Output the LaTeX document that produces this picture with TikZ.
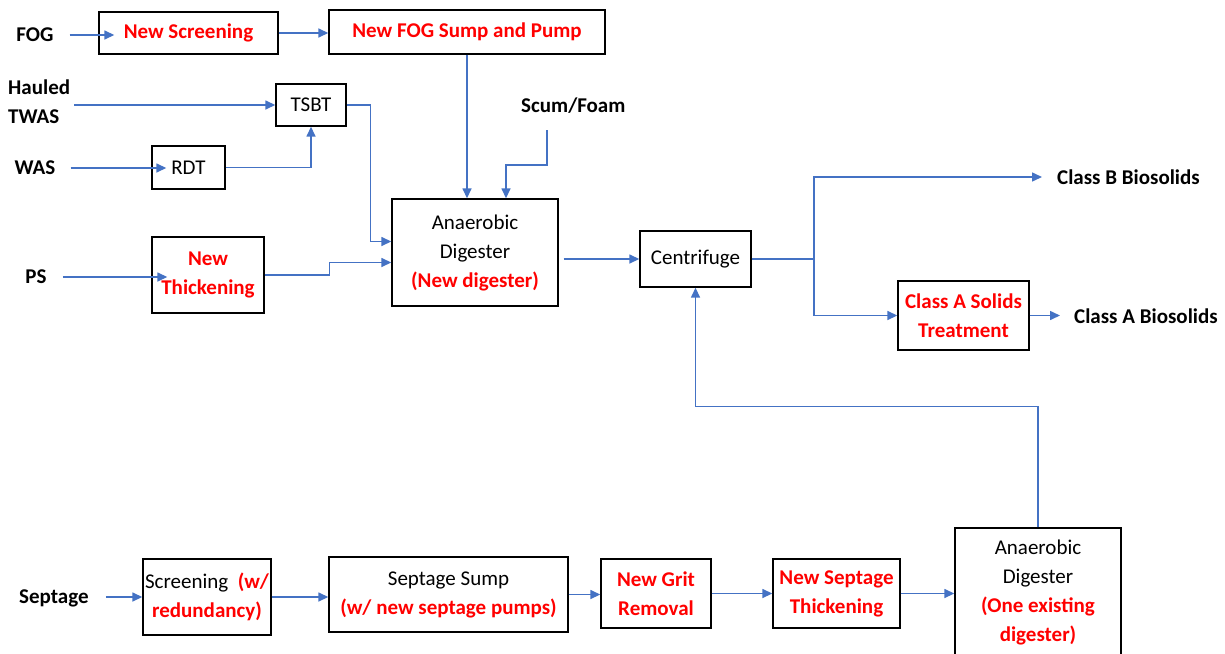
\documentclass[tikz,border=0pt]{standalone}
\usepackage{fontspec}
\setmainfont{Carlito}
\usetikzlibrary{arrows.meta}
\definecolor{flow}{HTML}{4472C4}
\definecolor{newred}{HTML}{FF0000}
\newcommand{\nw}[1]{\textcolor{newred}{\bfseries #1}}

\begin{document}
\begin{tikzpicture}[x=1pt,y=-1pt,
  every node/.style={font=\fontsize{21}{29}\selectfont},
  unit/.style={draw=black, line width=1.4pt, inner sep=0pt, align=center},
  tag/.style={font=\fontsize{21}{29}\selectfont\bfseries, inner sep=0pt, align=left},
  flowline/.style={draw=flow, line width=1.5pt},
  feed/.style={flowline, -{Triangle[length=10pt,width=9pt]}}]

\useasboundingbox[fill=white] (0,0) rectangle (1225,653);

% process units
\node[unit, minimum width=179pt, minimum height=42pt] (scr) at (188.5,33) {\nw{New Screening}};
\node[unit, minimum width=276pt, minimum height=44pt] (fogs) at (467,32) {\nw{New FOG Sump and Pump}};
\node[unit, minimum width=70pt, minimum height=42pt] (tsbt) at (311,105) {TSBT};
\node[unit, minimum width=73pt, minimum height=43pt] (rdt) at (188.5,167.5) {RDT};
\node[unit, minimum width=112pt, minimum height=76pt] (thk) at (208,275) {\nw{New}\\\nw{Thickening}};
\node[unit, minimum width=166pt, minimum height=107pt] (dig) at (475,252.5) {Anaerobic\\Digester\\\nw{(New digester)}};
\node[unit, minimum width=111pt, minimum height=56pt] (cen) at (695.5,259) {Centrifuge};
\node[unit, minimum width=131pt, minimum height=69pt] (cla) at (963.5,315.5) {\nw{Class A Solids}\\\nw{Treatment}};
\node[unit, minimum width=166pt, minimum height=128pt] (dig2) at (1038,592) {Anaerobic\\Digester\\\nw{(One existing}\\\nw{digester)}};
\node[unit, minimum width=128pt, minimum height=76pt] (sscr) at (207,597) {Screening\ \ \nw{(w/}\\\nw{redundancy)}};
\node[unit, minimum width=239pt, minimum height=75pt] (ssump) at (448.5,594.5) {Septage Sump\\\nw{(w/ new septage pumps)}};
\node[unit, minimum width=110pt, minimum height=69pt] (grit) at (656,593.5) {\nw{New Grit}\\\nw{Removal}};
\node[unit, minimum width=127pt, minimum height=69pt] (sthk) at (836.5,593.5) {\nw{New Septage}\\\nw{Thickening}};

% stream labels
\node[tag] (fog) at (35,35) {FOG};
\node[tag, anchor=west] (haul) at (8,102) {Hauled\\TWAS};
\node[tag] (was) at (35,168) {WAS};
\node[tag] (ps) at (36,277) {PS};
\node[tag, anchor=west] (scum) at (521,106) {Scum/Foam};
\node[tag, anchor=west] (clb) at (1057,177) {Class B Biosolids};
\node[tag, anchor=west] (cla2) at (1074,316) {Class A Biosolids};
\node[tag, anchor=west] (sept) at (19,598) {Septage};

% flows
\draw[feed] ([xshift=16pt]fog.east) -- ([xshift=16pt]fog.east -| scr.west);
\draw[feed] (scr.east) -- (scr.east -| fogs.west);
\draw[feed] ([xshift=4pt]haul.east |- tsbt.west) -- (tsbt.west);
\draw[feed] ([xshift=15pt]was.east) -- ([xshift=15pt]was.east -| rdt.west);
\draw[feed] (rdt.east) -| (tsbt.south);
\draw[feed] (tsbt.east) -- ++(24pt,0) |- ([yshift=11pt]dig.west);
\draw[feed] ([xshift=16pt]ps.east) -- ([xshift=16pt]ps.east -| thk.west);
\draw[feed] (thk.east) -- ++(65pt,0) |- ([yshift=-10pt]dig.west);
\draw[feed] (fogs.south) -- (fogs.south |- dig.north);
\coordinate (scumtap) at (547,130);
\draw[feed] (scumtap) -- ++(0,35) -| ([xshift=31pt]dig.north);
\draw[feed] ([xshift=5pt]dig.east |- cen.west) -- (cen.west);
\coordinate (split) at (814,259);
\draw[flowline] (cen.east) -- (split);
\draw[feed] (split) |- ([xshift=-15pt]clb.west);
\draw[feed] (split) |- (cla.west);
\draw[feed] (cla.east) -- ([xshift=-14pt]cla2.west |- cla.east);
\draw[feed] (dig2.north) -- ++(0,-121) -| (cen.south);
\draw[feed] ([xshift=17pt]sept.east |- sscr.west) -- (sscr.west);
\draw[feed] (sscr.east) -- (sscr.east -| ssump.west);
\draw[feed] (ssump.east) -- (ssump.east -| grit.west);
\draw[feed] (grit.east) -- (grit.east -| sthk.west);
\draw[feed] (sthk.east) -- (sthk.east -| dig2.west);
\end{tikzpicture}
\end{document}
